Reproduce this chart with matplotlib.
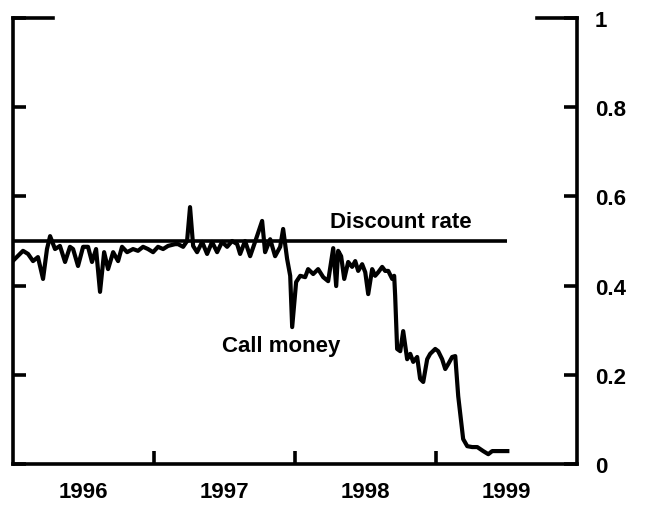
import matplotlib
matplotlib.use("Agg")
import matplotlib.pyplot as plt
from matplotlib.lines import Line2D

plt.rcParams['font.family'] = ['Liberation Sans', 'DejaVu Sans']

# Call money rate (percent), time in decimal years
call_years = [1996.000, 1996.016, 1996.073, 1996.109, 1996.144, 1996.179, 1996.215, 1996.243,
              1996.265, 1996.300, 1996.335, 1996.371, 1996.406, 1996.428, 1996.463, 1996.499,
              1996.534, 1996.562, 1996.591, 1996.619, 1996.648, 1996.676, 1996.712, 1996.747,
              1996.775, 1996.811, 1996.853, 1996.888, 1996.924, 1996.959, 1996.995, 1997.030,
              1997.066, 1997.101, 1997.151, 1997.172, 1997.208, 1997.236, 1997.257, 1997.279,
              1997.307, 1997.343, 1997.378, 1997.413, 1997.449, 1997.484, 1997.520, 1997.555,
              1997.591, 1997.612, 1997.647, 1997.683, 1997.718, 1997.768, 1997.789, 1997.825,
              1997.860, 1997.896, 1997.917, 1997.945, 1997.967, 1997.981, 1998.009, 1998.038,
              1998.073, 1998.094, 1998.130, 1998.165, 1998.201, 1998.236, 1998.272, 1998.293,
              1998.307, 1998.328, 1998.350, 1998.378, 1998.406, 1998.428, 1998.449, 1998.477,
              1998.499, 1998.520, 1998.548, 1998.569, 1998.591, 1998.619, 1998.640, 1998.662,
              1998.690, 1998.704, 1998.711, 1998.725, 1998.747, 1998.768, 1998.796, 1998.818,
              1998.839, 1998.867, 1998.888, 1998.910, 1998.938, 1998.959, 1998.995, 1999.016,
              1999.044, 1999.066, 1999.087, 1999.115, 1999.137, 1999.158, 1999.193, 1999.222,
              1999.257, 1999.293, 1999.335, 1999.371, 1999.399, 1999.435, 1999.506]
call_rate = [0.455, 0.460, 0.478, 0.471, 0.455, 0.464, 0.415, 0.482,
             0.511, 0.482, 0.489, 0.453, 0.487, 0.482, 0.444, 0.487,
             0.487, 0.453, 0.482, 0.386, 0.475, 0.437, 0.475, 0.455,
             0.487, 0.475, 0.482, 0.478, 0.487, 0.482, 0.475, 0.487,
             0.482, 0.489, 0.493, 0.493, 0.487, 0.500, 0.576, 0.489,
             0.475, 0.498, 0.471, 0.498, 0.475, 0.498, 0.487, 0.500,
             0.493, 0.471, 0.500, 0.466, 0.498, 0.545, 0.475, 0.504,
             0.466, 0.487, 0.527, 0.460, 0.422, 0.307, 0.408, 0.422,
             0.419, 0.437, 0.426, 0.437, 0.419, 0.410, 0.484, 0.399,
             0.478, 0.466, 0.415, 0.453, 0.442, 0.455, 0.433, 0.448,
             0.430, 0.381, 0.437, 0.422, 0.430, 0.442, 0.433, 0.433,
             0.415, 0.422, 0.377, 0.258, 0.253, 0.298, 0.235, 0.247,
             0.229, 0.240, 0.191, 0.184, 0.235, 0.247, 0.258, 0.253,
             0.235, 0.213, 0.224, 0.240, 0.242, 0.152, 0.056, 0.040,
             0.038, 0.038, 0.029, 0.022, 0.029, 0.029, 0.029]

# Official discount rate (percent)
discount_years = [1996.0, 1999.506]
discount_rate = [0.5, 0.5]

year_labels = ['1996', '1997', '1998', '1999']
year_label_pos = [1996.5, 1997.5, 1998.5, 1999.5]
year_ticks = [1997, 1998, 1999]
y_ticks = [0, 0.2, 0.4, 0.6, 0.8, 1]
y_ticklabels = ['0', '0.2', '0.4', '0.6', '0.8', '1']

fig = plt.figure(figsize=(6.45, 5.06), dpi=100)
ax = fig.add_axes([0.01969, 0.0810, 0.8749, 0.8814])

ax.plot(discount_years, discount_rate, color='black', lw=2.6, solid_capstyle='butt')
ax.plot(call_years, call_rate, color='black', lw=3.0, solid_joinstyle='round')

ax.set_xlim(1996, 2000)
ax.set_ylim(0, 1)

ax.text(1998.252, 0.543, 'Discount rate', fontsize=16, fontweight='bold',
        ha='left', va='center')
ax.text(1997.486, 0.265, 'Call money', fontsize=16, fontweight='bold',
        ha='left', va='center')

# spines
for s in ['left', 'right', 'bottom']:
    ax.spines[s].set_linewidth(2.6)
ax.spines['top'].set_visible(False)
for x0, x1 in [(0.0, 0.0714), (0.929, 1.0)]:
    ax.add_line(Line2D([x0, x1], [1, 1], transform=ax.transAxes, color='black',
                       lw=2.6, clip_on=False, solid_capstyle='projecting'))

# x ticks
ax.set_xticks(year_ticks)
ax.set_xticklabels([])
ax.set_xticks(year_label_pos, minor=True)
ax.set_xticklabels(year_labels, minor=True, fontsize=16, fontweight='bold')
ax.tick_params(axis='x', which='major', direction='in', length=9.4, width=2.6)
ax.tick_params(axis='x', which='minor', length=0, pad=12)

# y ticks
ax.set_yticks(y_ticks)
ax.set_yticklabels(y_ticklabels, fontsize=16, fontweight='bold')
ax.tick_params(axis='y', which='major', direction='in', length=9.4, width=2.6,
               left=True, right=True, labelleft=False, labelright=True, pad=13)

fig.savefig('out.png', dpi=100)
